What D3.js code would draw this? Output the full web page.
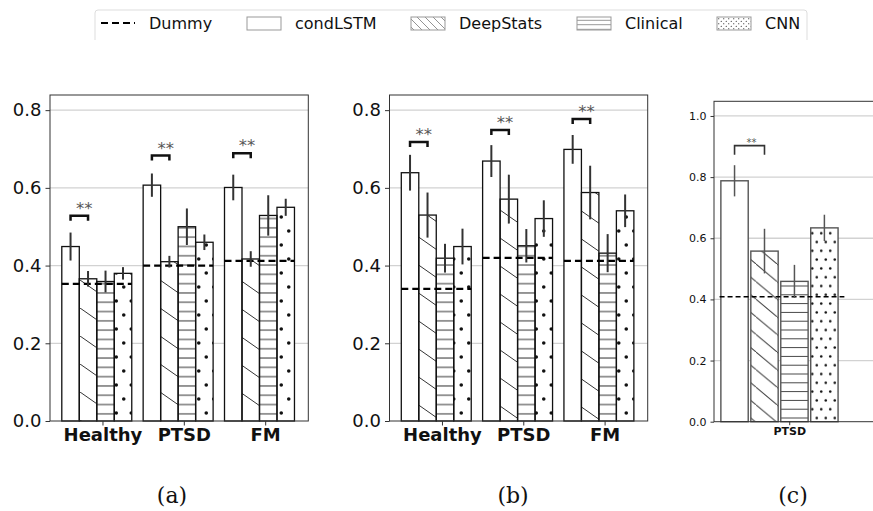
<!DOCTYPE html>
<html>
<head>
<meta charset="utf-8">
<script src="https://cdn.jsdelivr.net/npm/d3@7"></script>
<style>
  body { margin: 0; background: #fff; }
  svg { display: block; font-family: "DejaVu Sans", sans-serif; }
</style>
</head>
<body>
<svg id="fig" width="873" height="511"></svg>
<script>
// model order, shared by all panels
const models = ['condLSTM', 'DeepStats', 'Clinical', 'CNN'];
const hatchOf = ['none', 'diag', 'hline', 'dot'];

// (a)
const aGroups = ['Healthy', 'PTSD', 'FM'];
const aMeans = [[0.449, 0.366, 0.359, 0.380], [0.607, 0.410, 0.500, 0.460], [0.601, 0.417, 0.529, 0.550]];
const aErr = [[0.036, 0.020, 0.028, 0.016], [0.030, 0.015, 0.047, 0.020], [0.033, 0.020, 0.052, 0.022]];
const aDummy = [0.353, 0.400, 0.412];
const aSig = [0.528, 0.683, 0.689];

// (b)
const bGroups = ['Healthy', 'PTSD', 'FM'];
const bMeans = [[0.639, 0.530, 0.419, 0.449], [0.669, 0.571, 0.451, 0.521], [0.699, 0.588, 0.432, 0.541]];
const bErr = [[0.046, 0.058, 0.037, 0.046], [0.041, 0.063, 0.043, 0.047], [0.037, 0.069, 0.049, 0.042]];
const bDummy = [0.340, 0.420, 0.412];
const bSig = [0.718, 0.749, 0.777];

// (c)
const cGroups = ['PTSD'];
const cMeans = [[0.788, 0.558, 0.459, 0.634]];
const cErr = [[0.051, 0.073, 0.054, 0.043]];
const cDummy = [0.409];
const cSig = [0.903];

const abTicks = [0, 0.2, 0.4, 0.6, 0.8];
const cTicks = [0, 0.2, 0.4, 0.6, 0.8, 1.0];
const legendLabels = ['Dummy', 'condLSTM', 'DeepStats', 'Clinical', 'CNN'];

const svg = d3.select('#fig');
const defs = svg.append('defs');

// hatch patterns, one set per panel scale
function makeHatches(key, h) {
    const d = defs.append('pattern').attr('id', `diag-${key}`).attr('patternUnits', 'userSpaceOnUse')
        .attr('width', h.dw).attr('height', h.dh);
    d.append('path').attr('d', `M0,0L${h.dw},${h.dh}M${-h.dw},0L0,${h.dh}M${h.dw},${-h.dh}L${2 * h.dw},0`)
        .attr('stroke', h.col).attr('stroke-width', h.lw);

    const l = defs.append('pattern').attr('id', `hline-${key}`).attr('patternUnits', 'userSpaceOnUse')
        .attr('width', 10).attr('height', h.ls);
    l.append('line').attr('x1', 0).attr('x2', 10).attr('y1', h.ls / 2).attr('y2', h.ls / 2)
        .attr('stroke', h.col).attr('stroke-width', h.lw);

    const p = defs.append('pattern').attr('id', `dot-${key}`).attr('patternUnits', 'userSpaceOnUse')
        .attr('width', h.pw).attr('height', h.ph);
    p.append('circle').attr('cx', h.pw * 0.25).attr('cy', h.ph * 0.25).attr('r', h.r).attr('fill', '#111');
    p.append('circle').attr('cx', h.pw * 0.75).attr('cy', h.ph * 0.75).attr('r', h.r).attr('fill', '#111');
}
makeHatches('ab', { dw: 40, dh: 28, ls: 9.3, pw: 15, ph: 28, r: 1.8, col: '#333', lw: 1 });
makeHatches('c', { dw: 21, dh: 17.6, ls: 8.8, pw: 9, ph: 17.6, r: 1.3, col: '#444', lw: 1 });
makeHatches('lg', { dw: 8, dh: 8, ls: 4.5, pw: 5, ph: 5, r: 0.6, col: '#777', lw: 0.8 });

function drawPanel(cfg) {
    const g = svg.append('g');
    const x = d3.scaleLinear().domain(cfg.xDom).range([cfg.left, cfg.right]);
    const y = d3.scaleLinear().domain([0, cfg.yMax]).range([cfg.bottom, cfg.top]);
    const bw = 0.215, off0 = -0.5;

    // grid
    g.append('g').selectAll('line').data(cfg.ticks.filter(t => t > 0)).enter().append('line')
        .attr('x1', cfg.left).attr('x2', cfg.right)
        .attr('y1', d => y(d)).attr('y2', d => y(d))
        .attr('stroke', '#d2d2d2').attr('stroke-width', 1.3);

    const bars = [];
    cfg.groups.forEach((grp, gi) => {
        models.forEach((m, mi) => {
            bars.push({
                gi, mi,
                x0: x(gi + off0 + mi * bw) + cfg.inset,
                x1: x(gi + off0 + (mi + 1) * bw) - cfg.inset,
                v: cfg.means[gi][mi], e: cfg.err[gi][mi]
            });
        });
    });

    const bg = g.append('g');
    bg.selectAll('rect.fill').data(bars).enter().append('rect')
        .attr('x', d => d.x0).attr('width', d => d.x1 - d.x0)
        .attr('y', d => y(d.v)).attr('height', d => y(0) - y(d.v))
        .attr('fill', '#fff');
    bg.selectAll('rect.hatch').data(bars.filter(d => hatchOf[d.mi] !== 'none')).enter().append('rect')
        .attr('x', d => d.x0).attr('width', d => d.x1 - d.x0)
        .attr('y', d => y(d.v)).attr('height', d => y(0) - y(d.v))
        .attr('fill', d => `url(#${hatchOf[d.mi]}-${cfg.key})`);
    bg.selectAll('rect.edge').data(bars).enter().append('rect')
        .attr('x', d => d.x0).attr('width', d => d.x1 - d.x0)
        .attr('y', d => y(d.v)).attr('height', d => y(0) - y(d.v))
        .attr('fill', 'none').attr('stroke', cfg.edge).attr('stroke-width', cfg.edgeW);

    // dummy baseline per group
    g.append('g').selectAll('line').data(cfg.dummy).enter().append('line')
        .attr('x1', (d, i) => x(i + off0)).attr('x2', (d, i) => x(i + off0 + 4 * bw) + cfg.dashExtra)
        .attr('y1', d => y(d)).attr('y2', d => y(d))
        .attr('stroke', '#000').attr('stroke-width', cfg.dashW).attr('stroke-dasharray', cfg.dash);

    // error bars
    g.append('g').selectAll('line').data(bars).enter().append('line')
        .attr('x1', d => (d.x0 + d.x1) / 2).attr('x2', d => (d.x0 + d.x1) / 2)
        .attr('y1', d => y(d.v - d.e)).attr('y2', d => y(d.v + d.e))
        .attr('stroke', cfg.errCol).attr('stroke-width', cfg.errW);

    // significance brackets condLSTM vs DeepStats
    const sg = g.append('g');
    cfg.sig.forEach((s, gi) => {
        const xa = x(gi + off0 + 0.5 * bw), xb = x(gi + off0 + 1.5 * bw), ys = y(s);
        sg.append('path').attr('d', `M${xa},${ys + cfg.leg}L${xa},${ys}L${xb},${ys}L${xb},${ys + cfg.leg}`)
            .attr('fill', 'none').attr('stroke', cfg.sigCol).attr('stroke-width', cfg.sigW);
        sg.append('text').attr('x', (xa + xb) / 2 + cfg.sigDx).attr('y', ys - cfg.sigDy)
            .attr('text-anchor', 'middle').attr('font-size', cfg.sigFont).attr('fill', '#555').text('**');
    });

    // frame
    g.append('rect').attr('x', cfg.left).attr('y', cfg.top)
        .attr('width', cfg.right - cfg.left).attr('height', cfg.bottom - cfg.top)
        .attr('fill', 'none').attr('stroke', '#333').attr('stroke-width', 1);

    const ya = g.append('g').attr('transform', `translate(${cfg.left},0)`)
        .call(d3.axisLeft(y).tickValues(cfg.ticks).tickFormat(d3.format('.1f')).tickSize(cfg.tickLen).tickPadding(4));
    ya.select('.domain').remove();
    ya.selectAll('text').attr('font-size', cfg.tickFont).attr('font-family', 'DejaVu Sans').attr('fill', '#111');
    ya.selectAll('line').attr('stroke', '#333');

    const xa = g.append('g').attr('transform', `translate(0,${cfg.bottom})`)
        .call(d3.axisBottom(x).tickValues(cfg.groups.map((d, i) => i)).tickFormat(i => cfg.groups[i])
            .tickSize(cfg.tickLen).tickPadding(cfg.catPad));
    xa.select('.domain').remove();
    xa.selectAll('text').attr('font-size', cfg.catFont).attr('font-weight', 'bold')
        .attr('font-family', 'DejaVu Sans').attr('fill', '#111');
    xa.selectAll('line').attr('stroke', '#333');
}

const abStyle = {
    key: 'ab', top: 95, bottom: 421, yMax: 0.839, xDom: [-0.645, 2.53], ticks: abTicks,
    inset: 0, edge: '#111', edgeW: 1.3, dashW: 2.2, dash: '7,4', dashExtra: 0,
    errCol: '#333', errW: 2, leg: 5, sigCol: '#111', sigW: 2.5, sigFont: 16.5, sigDx: 5, sigDy: 2,
    tickLen: 4.5, tickFont: 18, catFont: 18, catPad: 3
};
drawPanel({ ...abStyle, left: 50, right: 308.3, groups: aGroups, means: aMeans, err: aErr, dummy: aDummy, sig: aSig });
drawPanel({ ...abStyle, left: 389.5, right: 647.7, groups: bGroups, means: bMeans, err: bErr, dummy: bDummy, sig: bSig });
drawPanel({
    key: 'c', top: 101.3, bottom: 421.7, yMax: 1.048, xDom: [-0.54, 0.745], ticks: cTicks,
    left: 714, right: 893, groups: cGroups, means: cMeans, err: cErr, dummy: cDummy, sig: cSig,
    inset: 1.3, edge: '#555', edgeW: 1.4, dashW: 1.5, dash: '5,3', dashExtra: 5,
    errCol: '#555', errW: 1.5, leg: 9, sigCol: '#333', sigW: 1.6, sigFont: 10, sigDx: 2, sigDy: 0,
    tickLen: 3.5, tickFont: 11, catFont: 11, catPad: 2
});

// legend (top, clipped by figure edge)
const lg = svg.append('g');
lg.append('path').attr('d', 'M95,40L95,13Q95,10 98,10L804,10Q807,10 807,13L807,40')
    .attr('fill', 'none').attr('stroke', '#ddd').attr('stroke-width', 1);
const lgX = [101, 247, 411, 577, 717];
legendLabels.forEach((lab, i) => {
    const x0 = lgX[i];
    if (i === 0) {
        lg.append('line').attr('x1', x0).attr('x2', x0 + 34).attr('y1', 23).attr('y2', 23)
            .attr('stroke', '#000').attr('stroke-width', 2.2).attr('stroke-dasharray', '7,4');
    } else {
        lg.append('rect').attr('x', x0).attr('y', 17).attr('width', 34).attr('height', 13).attr('fill', '#fff');
        if (hatchOf[i - 1] !== 'none') {
            lg.append('rect').attr('x', x0).attr('y', 17).attr('width', 34).attr('height', 13)
                .attr('fill', `url(#${hatchOf[i - 1]}-lg)`);
        }
        lg.append('rect').attr('x', x0).attr('y', 17).attr('width', 34).attr('height', 13)
            .attr('fill', 'none').attr('stroke', '#999').attr('stroke-width', 1);
    }
    lg.append('text').attr('x', x0 + 48).attr('y', 29).attr('font-size', 16).attr('fill', '#111').text(lab);
});

// sub-captions
const caps = [['(a)', 172], ['(b)', 513], ['(c)', 793]];
svg.append('g').selectAll('text').data(caps).enter().append('text')
    .attr('x', d => d[1]).attr('y', 503).attr('text-anchor', 'middle')
    .attr('font-family', '"DejaVu Serif", serif').attr('font-size', 22).attr('fill', '#111')
    .text(d => d[0]);
</script>
</body>
</html>
